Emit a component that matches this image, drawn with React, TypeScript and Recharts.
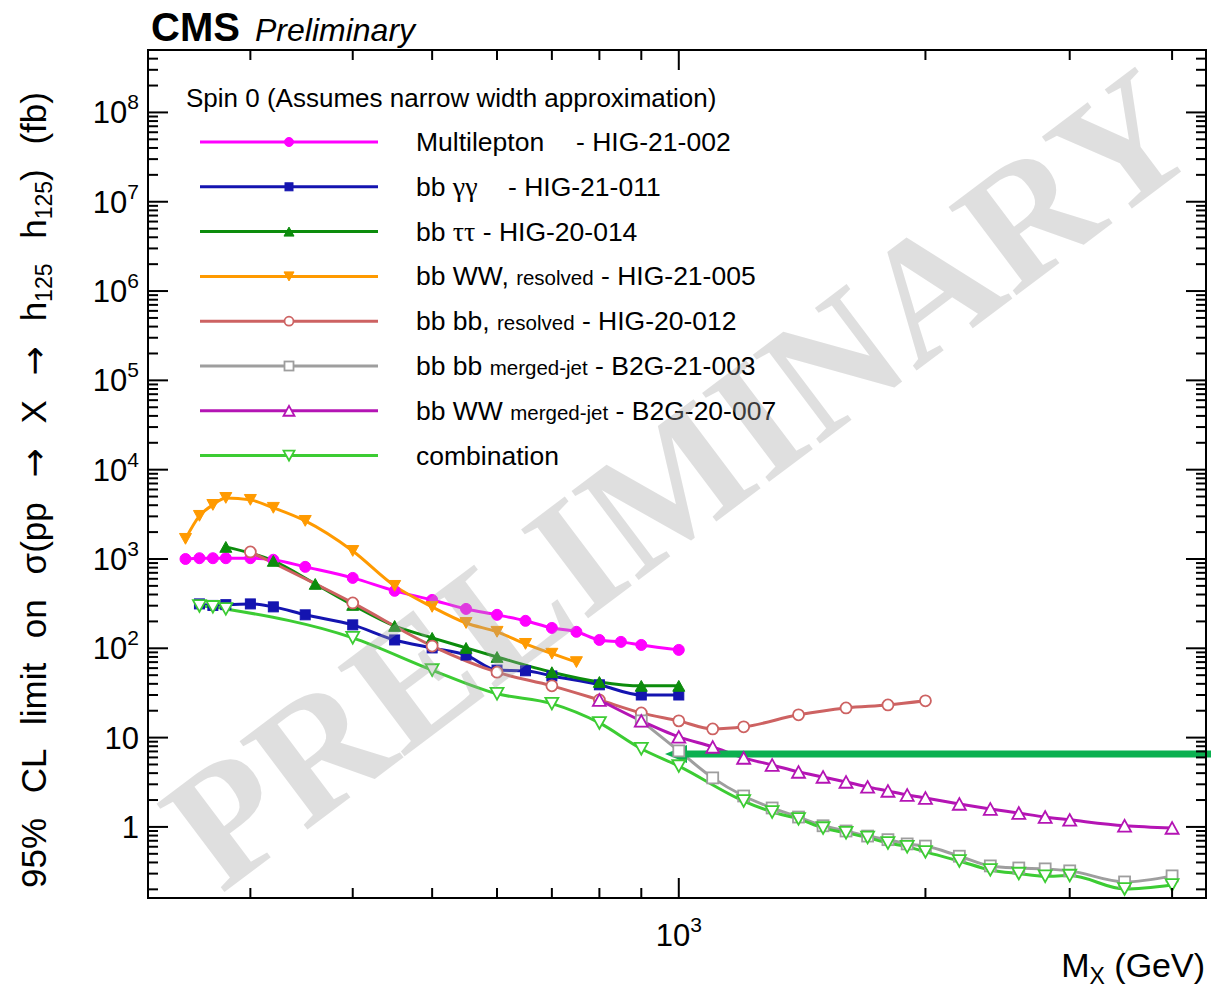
import React from 'react';
import { LineChart, Line, XAxis, YAxis, ReferenceLine } from 'recharts';

// masses (GeV) and 95% CL limits (fb)
const multiMass = [250, 260, 270, 280, 300, 320, 350, 400, 450, 500, 550, 600, 650, 700, 750, 800, 850, 900, 1000];
const multiLimit = [1000, 1020, 1020, 1020, 1020, 980, 816, 614, 440, 348, 276, 237, 203, 169, 153, 124, 118, 109, 96];

const bbggMass = [260, 270, 280, 300, 320, 350, 400, 450, 500, 550, 600, 650, 700, 800, 900, 1000];
const bbggLimit = [314, 302, 308, 314, 291, 237, 183, 124, 101, 84, 57, 56, 49, 39, 30, 30];

const bbttMass = [280, 320, 360, 400, 450, 500, 550, 600, 700, 800, 900, 1000];
const bbttLimit = [1366, 952, 526, 306, 178, 131, 101, 80, 54, 42, 38, 38];

const bbwwResMass = [250, 260, 270, 280, 300, 320, 350, 400, 450, 500, 550, 600, 650, 700, 750];
const bbwwResLimit = [1680, 3040, 4030, 4830, 4590, 3740, 2670, 1230, 500, 291, 192, 153, 112, 87, 70];

const bbbbResMass = [300, 400, 500, 600, 700, 800, 900, 1000, 1100, 1200, 1400, 1600, 1800, 2000];
const bbbbResLimit = [1200, 322, 106, 54, 38, 26.4, 18.9, 15.4, 12.5, 13.2, 18, 21.5, 23.2, 25.8];

const bbbbMergedMass = [900, 1000, 1100, 1200, 1300, 1400, 1500, 1600, 1700, 1800, 1900, 2000, 2200, 2400, 2600, 2800, 3000, 3500, 4000];
const bbbbMergedLimit = [15.4, 7.1, 3.54, 2.22, 1.63, 1.29, 1.03, 0.9, 0.79, 0.72, 0.645, 0.61, 0.47, 0.366, 0.347, 0.339, 0.322, 0.242, 0.283];

const bbwwMergedMass = [800, 900, 1000, 1100, 1200, 1300, 1400, 1500, 1600, 1700, 1800, 1900, 2000, 2200, 2400, 2600, 2800, 3000, 3500, 4000];
const bbwwMergedLimit = [26.4, 15.4, 10.2, 7.87, 5.93, 4.94, 4.13, 3.63, 3.19, 2.81, 2.53, 2.28, 2.11, 1.81, 1.59, 1.43, 1.29, 1.2, 1.03, 0.975];

const combMass = [260, 270, 280, 400, 500, 600, 700, 800, 900, 1000, 1200, 1300, 1400, 1500, 1600, 1700, 1800, 1900, 2000, 2200, 2400, 2600, 2800, 3000, 3500, 4000];
const combLimit = [298, 291, 276, 131, 57, 31, 24, 14.6, 7.5, 4.8, 1.95, 1.47, 1.23, 0.97, 0.86, 0.76, 0.66, 0.6, 0.525, 0.416, 0.33, 0.3, 0.28, 0.285, 0.202, 0.224];

// green arrow annotation
const arrowFromMass = 962;
const arrowToMass = 4500;
const arrowLevel = 6.57;

const xTicks = [300, 400, 500, 600, 700, 800, 900, 1000, 2000, 3000, 4000];
const yMajors = [1, 10, 100, 1e3, 1e4, 1e5, 1e6, 1e7, 1e8];
const xDomain = [225, 4400];
const yDomain = [0.16, 5e8];

const yTicks: number[] = [];
[0.1, ...yMajors].forEach(d => {
  for (let k = 1; k <= 9; k++) {
    const v = d * k;
    if (v > yDomain[0] && v < yDomain[1]) yTicks.push(v);
  }
});

const W = 1211;
const H = 989;
const PLOT = { left: 148, top: 50, right: 1206, bottom: 898 };
const FONT = '"Liberation Sans", Arial, Helvetica, sans-serif';
const ARROW_FONT = '"DejaVu Sans", sans-serif';

const toPoints = (m: number[], v: number[]) => m.map((x, i) => ({ x, y: v[i] }));

type MarkerKind = 'circle' | 'square' | 'triUp' | 'triDown';

const Marker = ({ kind, x, y, color, filled, s }: { kind: MarkerKind; x: number; y: number; color: string; filled: boolean; s: number }) => {
  const fill = filled ? color : '#fff';
  const common = { fill, stroke: color, strokeWidth: filled ? 1 : 1.8 };
  if (kind === 'circle') return <circle cx={x} cy={y} r={s / 2} {...common} />;
  if (kind === 'square') return <rect x={x - s / 2} y={y - s / 2} width={s} height={s} {...common} />;
  const h = s * 0.9;
  if (kind === 'triUp')
    return <polygon points={`${x - s / 2},${y + h / 2} ${x + s / 2},${y + h / 2} ${x},${y - h / 2}`} {...common} />;
  return <polygon points={`${x - s / 2},${y - h / 2} ${x + s / 2},${y - h / 2} ${x},${y + h / 2}`} {...common} />;
};

const series = [
  { name: 'multi', mass: multiMass, limit: multiLimit, color: '#ff00ff', kind: 'circle' as MarkerKind, filled: true, s: 11 },
  { name: 'bbgg', mass: bbggMass, limit: bbggLimit, color: '#1414b0', kind: 'square' as MarkerKind, filled: true, s: 10 },
  { name: 'bbtt', mass: bbttMass, limit: bbttLimit, color: '#0c8c0c', kind: 'triUp' as MarkerKind, filled: true, s: 12 },
  { name: 'bbwwRes', mass: bbwwResMass, limit: bbwwResLimit, color: '#ff9a00', kind: 'triDown' as MarkerKind, filled: true, s: 12 },
  { name: 'bbbbRes', mass: bbbbResMass, limit: bbbbResLimit, color: '#cd6262', kind: 'circle' as MarkerKind, filled: false, s: 11 },
  { name: 'bbbbMerged', mass: bbbbMergedMass, limit: bbbbMergedLimit, color: '#9e9e9e', kind: 'square' as MarkerKind, filled: false, s: 11 },
  { name: 'bbwwMerged', mass: bbwwMergedMass, limit: bbwwMergedLimit, color: '#b414b4', kind: 'triUp' as MarkerKind, filled: false, s: 13 },
  { name: 'comb', mass: combMass, limit: combLimit, color: '#3ccc33', kind: 'triDown' as MarkerKind, filled: false, s: 13 },
];

const makeDot = (sr: typeof series[number]) => (props: any) => {
  const { cx, cy, index } = props;
  if (cx == null || cy == null) return <g key={`d-${index}`} />;
  return (
    <g key={`d-${index}`}>
      <Marker kind={sr.kind} x={cx} y={cy} color={sr.color} filled={sr.filled} s={sr.s} />
    </g>
  );
};

const isMajor = (v: number) => Math.abs(Math.log10(v) - Math.round(Math.log10(v))) < 1e-6;

const YTick = (props: any) => {
  const { y, payload } = props;
  const v = payload.value;
  const major = isMajor(v);
  const len = major ? 20 : 10;
  const e = Math.round(Math.log10(v));
  return (
    <g>
      <line x1={PLOT.left} x2={PLOT.left + len} y1={y} y2={y} stroke="#000" strokeWidth={2} />
      <line x1={PLOT.right - len} x2={PLOT.right} y1={y} y2={y} stroke="#000" strokeWidth={2} />
      {major && (
        <text x={139} y={y + 11} textAnchor="end" fontSize={31} fontFamily={FONT} fill="#000">
          {e === 0 ? '1' : '10'}
          {e > 1 && <tspan dy={-14} fontSize={21}>{e}</tspan>}
        </text>
      )}
    </g>
  );
};

const XTick = (props: any) => {
  const { x, payload } = props;
  const v = payload.value;
  const major = isMajor(v);
  const len = major ? 20 : 10;
  return (
    <g>
      <line x1={x} x2={x} y1={PLOT.bottom} y2={PLOT.bottom - len} stroke="#000" strokeWidth={2} />
      <line x1={x} x2={x} y1={PLOT.top} y2={PLOT.top + len} stroke="#000" strokeWidth={2} />
      {major && (
        <text x={x} y={946} textAnchor="middle" fontSize={31} fontFamily={FONT} fill="#000">
          10<tspan dy={-14} fontSize={21}>{Math.round(Math.log10(v))}</tspan>
        </text>
      )}
    </g>
  );
};

const ArrowShape = (props: any) => {
  const { x1, y1, x2 } = props;
  const tip = Math.min(x1, x2);
  const end = Math.max(x1, x2);
  return (
    <g>
      <line x1={tip + 16} x2={end} y1={y1} y2={y1} stroke="#0bb050" strokeWidth={7} />
      <polygon points={`${tip},${y1} ${tip + 22},${y1 - 9} ${tip + 22},${y1 + 9}`} fill="#0bb050" />
    </g>
  );
};

const legendRows = [
  { main: 'Multilepton', small: '', tail: '- HIG-21-002', tailX: 576 },
  { main: 'bb ', greek: 'γγ', small: '', tail: '- HIG-21-011', tailX: 508 },
  { main: 'bb ', greek: 'ττ', small: '', tail: ' - HIG-20-014' },
  { main: 'bb WW, ', small: 'resolved', tail: ' - HIG-21-005' },
  { main: 'bb bb, ', small: 'resolved', tail: ' - HIG-20-012' },
  { main: 'bb bb ', small: 'merged-jet', tail: ' - B2G-21-003' },
  { main: 'bb WW ', small: 'merged-jet', tail: ' - B2G-20-007' },
  { main: 'combination', small: '', tail: '' },
];

const Overlay = () => (
  <svg width={W} height={H} style={{ position: 'absolute', left: 0, top: 0, pointerEvents: 'none' }}>
    <rect x={PLOT.left} y={PLOT.top} width={PLOT.right - PLOT.left} height={PLOT.bottom - PLOT.top} fill="none" stroke="#000" strokeWidth={2} />
    <text x={151} y={41} fontFamily={FONT} fontWeight="bold" fontSize={40} fill="#000">CMS</text>
    <text x={255} y={41} fontFamily={FONT} fontStyle="italic" fontSize={32} fill="#000">Preliminary</text>

    <text x={186} y={107} fontFamily={FONT} fontSize={26} fill="#000">Spin 0 (Assumes narrow width approximation)</text>
    {legendRows.map((r, i) => {
      const sr = series[i];
      const y = 142 + i * 44.8;
      return (
        <g key={sr.name}>
          <line x1={200} x2={378} y1={y} y2={y} stroke={sr.color} strokeWidth={3} />
          <Marker kind={sr.kind} x={289} y={y} color={sr.color} filled={sr.filled} s={sr.s - 2} />
          <text x={416} y={y + 9} fontFamily={FONT} fontSize={26.5} fill="#000" xmlSpace="preserve">
            {r.main}
            {r.greek && <tspan fontFamily='"Liberation Serif", "DejaVu Serif", serif' fontSize={28}>{r.greek}</tspan>}
            {r.small && <tspan fontSize={20.5}>{r.small}</tspan>}
            {r.tail && (r.tailX ? <tspan x={r.tailX}>{r.tail}</tspan> : <tspan>{r.tail}</tspan>)}
          </text>
        </g>
      );
    })}

    <text
      x={46}
      y={888}
      transform="rotate(-90 46 888)"
      fontFamily={FONT}
      fontSize={35}
      fill="#000"
      wordSpacing={15}
      xmlSpace="preserve"
    >
      {'95% CL limit on σ(pp '}
      <tspan fontFamily={ARROW_FONT}>→</tspan>
      {' X '}
      <tspan fontFamily={ARROW_FONT}>→</tspan>
      {' h'}
      <tspan baselineShift="-28%" fontSize={23}>125</tspan>
      <tspan>{' h'}</tspan>
      <tspan baselineShift="-28%" fontSize={23}>125</tspan>
      <tspan>{') (fb)'}</tspan>
    </text>

    <text x={1205} y={977} textAnchor="end" fontFamily={FONT} fontSize={34} fill="#000">
      M<tspan fontSize={23} dy={7}>X</tspan><tspan dy={-7}> (GeV)</tspan>
    </text>

    <text
      x={713}
      y={524}
      transform="rotate(-37 713 524)"
      textAnchor="middle"
      fontFamily='"Liberation Serif", "Times New Roman", serif'
      fontWeight="bold"
      fontSize={170}
      fill="#a5a5a5"
      opacity={0.35}
    >
      PRELIMINARY
    </text>
  </svg>
);

const App: React.FC = () => (
  <div style={{ position: 'absolute', left: 0, top: 0, width: W, height: H, background: '#fff' }}>
    <LineChart width={W} height={H} margin={{ top: PLOT.top, right: W - PLOT.right, bottom: 0, left: 0 }}>
      <XAxis
        dataKey="x"
        type="number"
        scale="log"
        domain={xDomain}
        allowDataOverflow
        ticks={xTicks}
        interval={0}
        tick={<XTick />}
        tickLine={false}
        axisLine={false}
        height={H - PLOT.bottom}
      />
      <YAxis
        type="number"
        scale="log"
        domain={yDomain}
        allowDataOverflow
        ticks={yTicks}
        interval={0}
        tick={<YTick />}
        tickLine={false}
        axisLine={false}
        width={PLOT.left}
      />
      {series.map(sr => (
        <Line
          key={sr.name}
          data={toPoints(sr.mass, sr.limit)}
          dataKey="y"
          type="monotone"
          stroke={sr.color}
          strokeWidth={3}
          dot={makeDot(sr)}
          activeDot={false}
          isAnimationActive={false}
        />
      ))}
      <ReferenceLine
        segment={[{ x: arrowFromMass, y: arrowLevel }, { x: arrowToMass, y: arrowLevel }]}
        ifOverflow="visible"
        shape={ArrowShape}
      />
    </LineChart>
    <Overlay />
  </div>
);

export default App;
